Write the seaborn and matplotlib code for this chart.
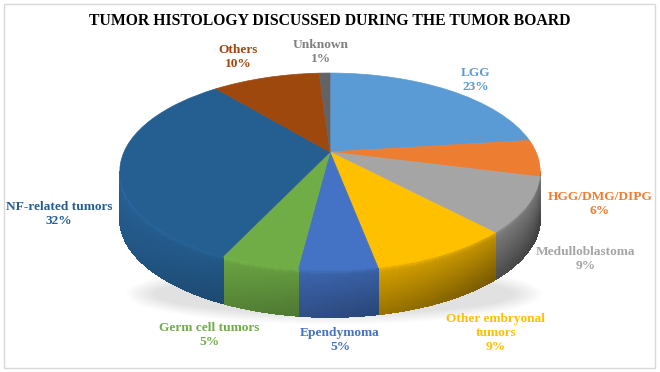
import numpy as np
import matplotlib
matplotlib.use("Agg")
import matplotlib.pyplot as plt
import seaborn as sns
from matplotlib.patches import Ellipse, Rectangle
from matplotlib.collections import PolyCollection
from matplotlib.colors import to_rgb
from matplotlib.transforms import Transform

# data
categories = ["LGG", "HGG/DMG/DIPG", "Medulloblastoma", "Other embryonal\ntumors",
              "Ependymoma", "Germ cell tumors", "NF-related tumors", "Others", "Unknown"]
shares = [23, 6, 9, 9, 5, 5, 32, 10, 1]
colors = ["#5B9BD5", "#ED7D31", "#A5A5A5", "#FFC000", "#4472C4",
          "#70AD47", "#255E91", "#9E480E", "#636363"]
label_colors = ["#5B9BD5", "#ED7D31", "#A5A5A5", "#FFC000", "#4472C4",
                "#70AD47", "#255E91", "#9E480E", "#7F7F7F"]
# label centres in pixels (x, y from top)
label_pos = [(476, 80), (600, 204), (586, 259), (496, 333), (340, 340),
             (209, 335), (59, 214), (238, 57), (321, 52)]


class Tilt(Transform):
    """simple perspective: far half of the disc is squeezed"""
    input_dims = output_dims = 2

    def __init__(self, k):
        super().__init__()
        self.k = k

    def transform_non_affine(self, xy):
        xy = np.asarray(xy, float)
        d = 1 + self.k * xy[:, 1]
        return np.column_stack([xy[:, 0] / d, xy[:, 1] / d])


sns.set_theme(style="white")
plt.rcParams['font.family'] = ['Liberation Serif', 'DejaVu Serif']

W, H = 660, 372
cx, cy = 330, 152          # pie apex in pixels
sx, sy = 206, 94.6         # pixels per unit
k = 0.198
depth = 47 / sy
tilt = Tilt(k)

fig = plt.figure(figsize=(W / 100, H / 100), dpi=100)
ax = fig.add_axes([0, 0, 1, 1])

# faint shadow below the pie
for i in range(10):
    ax.add_patch(Ellipse((0.02, -1.5), 1.75 + 0.03 * i, 0.42 + 0.025 * i,
                         facecolor="#000000", alpha=0.012, edgecolor="none", zorder=0))

# side wall (front part only)
lim = np.degrees(np.arcsin(k))
start = 90.0
polys, fcols = [], []
for val, col in zip(shares, colors):
    sweep = 360.0 * val / sum(shares)
    a0, a1 = start - sweep, start
    start = a0
    lo, hi = max(a0, -180.0 + lim), min(a1, -lim)
    if hi <= lo:
        continue
    ts = np.radians(np.linspace(lo, hi, 40))
    pts = tilt.transform(np.column_stack([np.cos(ts), np.sin(ts)]))
    base = np.array(to_rgb(col))
    n = 24
    for j in range(len(ts) - 1):
        c_t = np.cos(0.5 * (ts[j] + ts[j + 1]))
        (x0, y0), (x1, y1) = pts[j], pts[j + 1]
        for m in range(n):
            f0, f1 = m / n, (m + 1) / n
            fm = 0.5 * (f0 + f1)
            b = (0.88 - 0.16 * c_t) - fm * (0.22 + 0.12 * c_t)
            if fm < 0.12:
                b += 0.14 * (1 - fm / 0.12)
            c = np.clip(base * b, 0, 1)
            polys.append([(x0, y0 - depth * f0), (x1, y1 - depth * f0),
                          (x1, y1 - depth * f1), (x0, y0 - depth * f1)])
            fcols.append(c)
ax.add_collection(PolyCollection(polys, facecolors=fcols, edgecolors=fcols,
                                 linewidths=0.6, antialiaseds=False, zorder=1))

# top face
wedges, _ = ax.pie(shares, colors=colors, startangle=90, counterclock=False,
                   radius=1, center=(0, 0), wedgeprops=dict(linewidth=0.5))
for w in wedges:
    w.set_edgecolor(w.get_facecolor())
    w.set_transform(tilt + ax.transData)
    w.set_zorder(2)

ax.set_aspect("auto")
ax.set_xlim(-cx / sx, (W - cx) / sx)
ax.set_ylim(-(H - cy) / sy, cy / sy)
ax.axis("off")

# labels
for name, val, lc, (px, py) in zip(categories, shares, label_colors, label_pos):
    fig.text(px / W, 1 - py / H, f"{name}\n{val}%", ha="center", va="center",
             color=lc, fontsize=9.6, fontweight="bold", linespacing=1.2, zorder=5)

fig.text(0.5, 1 - 21 / H, "TUMOR HISTOLOGY DISCUSSED DURING THE TUMOR BOARD",
         ha="center", va="center", fontsize=11.3, fontweight="bold", color="#000000")

fig.patches.append(Rectangle((4 / W, 4 / H), 1 - 9 / W, 1 - 8 / H, transform=fig.transFigure,
                             fill=False, edgecolor="#D9D9D9", linewidth=1))

fig.savefig("out.png", dpi=100)
